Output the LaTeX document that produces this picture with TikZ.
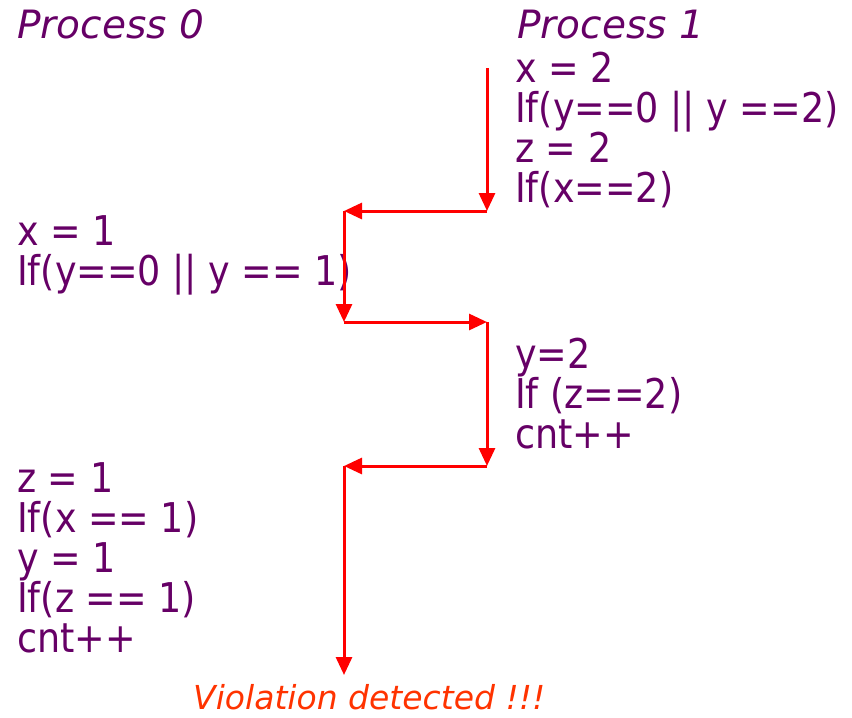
\documentclass[tikz,border=0pt]{standalone}
\usepackage{fontspec}
\setmainfont{DejaVu Sans}
\newfontfamily\codefont[FakeStretch=0.89]{DejaVu Sans}
\newfontfamily\headfont{DejaVu Sans Oblique}
\usetikzlibrary{arrows.meta}
\definecolor{codepurple}{RGB}{102,0,102}
\definecolor{flowred}{RGB}{255,0,0}
\definecolor{warnred}{RGB}{255,51,0}
\tikzset{
  codeline/.style={anchor=base west, inner sep=0pt, text=codepurple,
    font=\codefont\fontsize{41pt}{41pt}\selectfont},
  headline/.style={anchor=base west, inner sep=0pt, text=codepurple,
    font=\headfont\fontsize{39pt}{39pt}\selectfont},
  warnline/.style={anchor=base west, inner sep=0pt, text=warnred,
    font=\headfont\fontsize{33pt}{33pt}\selectfont},
  flow/.style={draw=flowred, line width=3pt,
    -{Triangle[length=18pt,width=16pt]}},
}
\begin{document}
\begin{tikzpicture}[x=1pt,y=-1pt]
\useasboundingbox (0,0) rectangle (852,718);
% headings
\node[headline] (h0) at (17,38) {Process 0};
\node[headline] (h1) at (517,38) {Process 1};
% Process 1, block 1
\node[codeline] (r1a) at (515,82) {x = 2};
\node[codeline] (r1b) at (515,122) {If(y==0 || y ==2)};
\node[codeline] (r1c) at (515,162) {z = 2};
\node[codeline] (r1d) at (515,202) {If(x==2)};
% Process 0, block 1
\node[codeline] (l1a) at (17,245) {x = 1};
\node[codeline] (l1b) at (17,285) {If(y==0 || y == 1)};
% Process 1, block 2
\node[codeline] (r2a) at (515,368) {y=2};
\node[codeline] (r2b) at (515,408) {If (z==2)};
\node[codeline] (r2c) at (515,448) {cnt++};
% Process 0, block 2
\node[codeline] (l2a) at (17,492) {z = 1};
\node[codeline] (l2b) at (17,532) {If(x == 1)};
\node[codeline] (l2c) at (17,572) {y = 1};
\node[codeline] (l2d) at (17,612) {If(z == 1)};
\node[codeline] (l2e) at (17,652) {cnt++};
% result
\node[warnline] (viol) at (193,709) {Violation detected !!!};
% flow corners
\coordinate (c0) at (487,68);
\coordinate (c1) at (487,211);
\coordinate (c2) at (344,211);
\coordinate (c3) at (344,322);
\coordinate (c4) at (487,322);
\coordinate (c5) at (487,466);
\coordinate (c6) at (344,466);
\coordinate (c7) at (344,675);
\draw[flow] (c0) -- (c1);
\draw[flow] (c1) -- (c2);
\draw[flow] (c2) -- (c3);
\draw[flow] (c3) -- (c4);
\draw[flow] (c4) -- (c5);
\draw[flow] (c5) -- (c6);
\draw[flow] (c6) -- (c7);
\end{tikzpicture}
\end{document}
